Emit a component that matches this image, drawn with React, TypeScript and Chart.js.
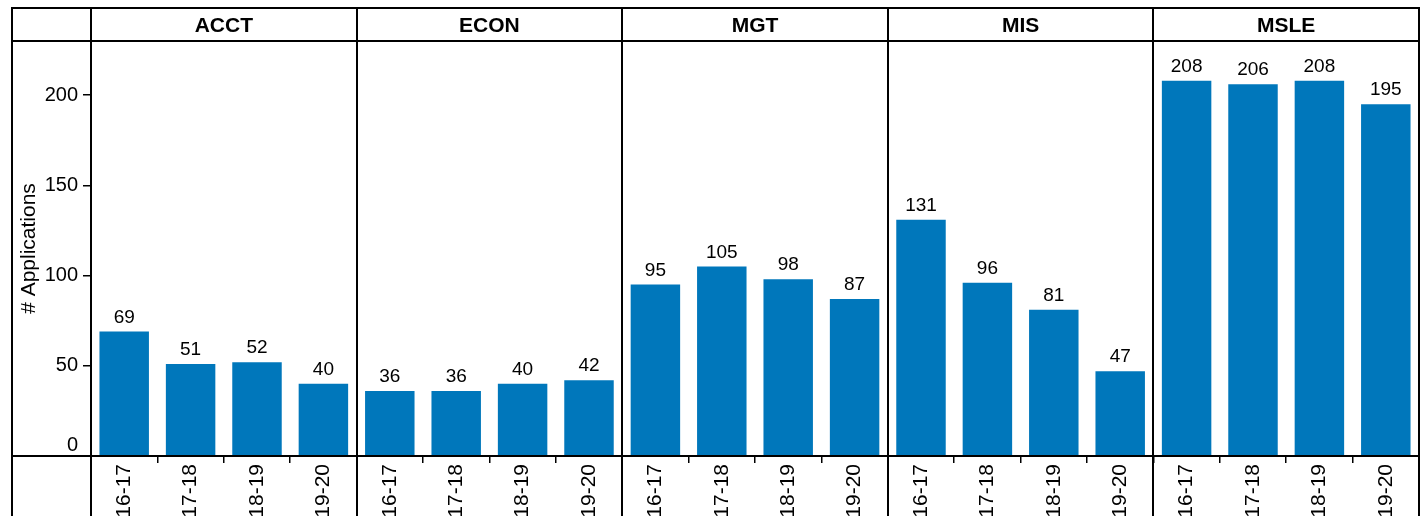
import React, { useEffect, useRef } from 'react';
import { Chart, registerables } from 'chart.js';

Chart.register(...registerables);

// ---- data ----
const groups = ['ACCT', 'ECON', 'MGT', 'MIS', 'MSLE'];
const years = ['16-17', '17-18', '18-19', '19-20'];
const acct = [69, 51, 52, 40];
const econ = [36, 36, 40, 42];
const mgt = [95, 105, 98, 87];
const mis = [131, 96, 81, 47];
const msle = [208, 206, 208, 195];
const yTicks = [0, 50, 100, 150, 200];
const yTitle = '# Applications';

const FONT = '"Liberation Sans", Arial, Helvetica, sans-serif';
const BAR = '#0077BB';

export default function App() {
  const ref = useRef<HTMLCanvasElement>(null);

  useEffect(() => {
    document.body.style.margin = '0';
    document.body.style.overflow = 'hidden';
    const canvas = ref.current;
    if (!canvas) return;

    const seriesByGroup = [acct, econ, mgt, mis, msle];
    const labels = groups.flatMap(() => years);
    const values = seriesByGroup.flat();
    const perGroup = years.length;

    const facetPlugin = {
      id: 'facetPlugin',
      afterDatasetsDraw(chart: any) {
        const { ctx } = chart;
        const meta = chart.getDatasetMeta(0);
        ctx.save();
        ctx.fillStyle = '#000';
        ctx.font = `19px ${FONT}`;
        ctx.textAlign = 'center';
        ctx.textBaseline = 'alphabetic';
        meta.data.forEach((bar: any, i: number) => {
          ctx.fillText(String(values[i]), bar.x, bar.y - 9);
        });
        ctx.restore();
      },
      afterDraw(chart: any) {
        const { ctx, chartArea } = chart;
        const xs = chart.scales.x;
        const ys = chart.scales.y;
        const top = 8;
        const headerBottom = 41;
        const outerLeft = 12;
        const bottomEdge = chart.height;
        const axisY = Math.round(chartArea.bottom);
        const right = Math.round(chartArea.right);

        const bounds: number[] = [];
        for (let g = 0; g <= groups.length; g++) {
          if (g === 0) bounds.push(chartArea.left);
          else if (g === groups.length) bounds.push(chartArea.right);
          else {
            const i = g * perGroup;
            bounds.push((xs.getPixelForValue(i - 1) + xs.getPixelForValue(i)) / 2);
          }
        }

        ctx.save();
        ctx.strokeStyle = '#000';
        ctx.lineWidth = 2;
        ctx.beginPath();
        ctx.moveTo(outerLeft - 1, top);
        ctx.lineTo(right + 1, top);
        ctx.moveTo(outerLeft - 1, headerBottom);
        ctx.lineTo(right + 1, headerBottom);
        ctx.moveTo(outerLeft - 1, axisY);
        ctx.lineTo(right + 1, axisY);
        ctx.moveTo(outerLeft, top - 1);
        ctx.lineTo(outerLeft, bottomEdge);
        bounds.forEach((b) => {
          const bx = Math.round(b);
          ctx.moveTo(bx, top - 1);
          ctx.lineTo(bx, bottomEdge);
        });
        ctx.stroke();

        // panel headers
        ctx.fillStyle = '#000';
        ctx.font = `bold 21px ${FONT}`;
        ctx.textAlign = 'center';
        ctx.textBaseline = 'alphabetic';
        groups.forEach((g, k) => {
          ctx.fillText(g, (bounds[k] + bounds[k + 1]) / 2, 31.5);
        });

        // zero tick label (sits above the axis line)
        ctx.font = `20px ${FONT}`;
        ctx.textAlign = 'right';
        ctx.fillText(String(yTicks[0]), chartArea.left - 8 - 5, ys.getPixelForValue(yTicks[0]) - 5);
        ctx.restore();
      },
    };

    const chart = new Chart(canvas, {
      type: 'bar',
      data: {
        labels,
        datasets: [
          {
            data: values,
            backgroundColor: BAR,
            borderWidth: 0,
            barPercentage: 0.745,
            categoryPercentage: 1,
          },
        ],
      },
      options: {
        animation: false,
        responsive: false,
        devicePixelRatio: 1,
        events: [],
        layout: { padding: { left: 12, right: 7, top: 41, bottom: 0 } },
        plugins: {
          legend: { display: false },
          tooltip: { enabled: false },
          title: { display: false },
        },
        scales: {
          x: {
            type: 'category',
            border: { display: false },
            grid: {
              offset: true,
              drawOnChartArea: false,
              drawTicks: true,
              tickLength: 7,
              color: '#000',
              lineWidth: 1.5,
            },
            ticks: {
              autoSkip: false,
              minRotation: 90,
              maxRotation: 90,
              padding: 1,
              color: '#000',
              font: { size: 21, family: FONT },
            },
            afterFit: (s: any) => {
              s.height = 60;
            },
          },
          y: {
            type: 'linear',
            min: 0,
            max: 230,
            border: { display: false },
            grid: {
              drawOnChartArea: false,
              drawTicks: true,
              tickLength: 8,
              color: '#000',
              lineWidth: 1.5,
            },
            ticks: {
              includeBounds: false,
              padding: 5,
              color: '#000',
              font: { size: 20, family: FONT },
              callback: (v: any) => (v === yTicks[0] ? '' : String(v)),
            },
            afterBuildTicks: (s: any) => {
              s.ticks = yTicks.map((v) => ({ value: v }));
            },
            title: {
              display: true,
              text: yTitle,
              color: '#000',
              font: { size: 21, family: FONT },
              padding: { top: 5, bottom: 0 },
            },
            afterFit: (s: any) => {
              s.width = 79;
            },
          },
        },
      },
      plugins: [facetPlugin],
    });

    return () => {
      chart.destroy();
    };
  }, []);

  return (
    <div style={{ width: 1426, height: 516, position: 'relative' }}>
      <canvas ref={ref} width={1426} height={516} style={{ display: 'block' }} />
    </div>
  );
}
